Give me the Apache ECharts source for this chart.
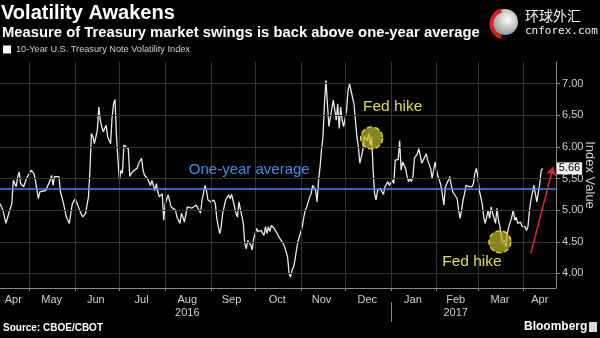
<!DOCTYPE html>
<html><head><meta charset="utf-8">
<script src="https://cdn.jsdelivr.net/npm/echarts@6/dist/echarts.min.js"></script>
<style>html,body{margin:0;padding:0;background:#000;}#c{width:600px;height:338px;}</style>
</head><body><div id="c"></div>
<script>
// ---------- DATA ----------
const seriesName = '10-Year U.S. Treasury Note Volatility Index';
const dates = [
'2016-04-11','2016-04-12','2016-04-13','2016-04-14','2016-04-15','2016-04-17','2016-04-19','2016-04-20','2016-04-22','2016-04-23',
'2016-04-24','2016-04-25','2016-04-27','2016-04-29','2016-04-30','2016-05-02','2016-05-04','2016-05-05','2016-05-07','2016-05-08',
'2016-05-09','2016-05-12','2016-05-13','2016-05-15','2016-05-16','2016-05-17','2016-05-18','2016-05-19','2016-05-21','2016-05-22',
'2016-05-23','2016-05-24','2016-05-26','2016-05-28','2016-05-29','2016-05-30','2016-06-01','2016-06-02','2016-06-04','2016-06-06',
'2016-06-08','2016-06-10','2016-06-11','2016-06-12','2016-06-13','2016-06-14','2016-06-16','2016-06-17','2016-06-18','2016-06-19',
'2016-06-20','2016-06-21','2016-06-22','2016-06-23','2016-06-25','2016-06-26','2016-06-27','2016-06-28','2016-06-29','2016-06-30',
'2016-07-01','2016-07-02','2016-07-03','2016-07-04','2016-07-05','2016-07-07','2016-07-08','2016-07-09','2016-07-11','2016-07-13',
'2016-07-14','2016-07-16','2016-07-17','2016-07-18','2016-07-20','2016-07-22','2016-07-23','2016-07-25','2016-07-26','2016-07-27',
'2016-07-28','2016-07-30','2016-07-31','2016-08-01','2016-08-03','2016-08-04','2016-08-05','2016-08-06','2016-08-08','2016-08-09',
'2016-08-11','2016-08-12','2016-08-13','2016-08-14','2016-08-16','2016-08-17','2016-08-19','2016-08-20','2016-08-22','2016-08-25',
'2016-08-26','2016-08-28','2016-08-29','2016-08-30','2016-09-01','2016-09-03','2016-09-04','2016-09-05','2016-09-06','2016-09-07',
'2016-09-08','2016-09-09','2016-09-11','2016-09-13','2016-09-14','2016-09-15','2016-09-16','2016-09-18','2016-09-19','2016-09-20',
'2016-09-21','2016-09-23','2016-09-24','2016-09-25','2016-09-26','2016-09-28','2016-09-29','2016-09-30','2016-10-01','2016-10-02',
'2016-10-03','2016-10-04','2016-10-05','2016-10-07','2016-10-08','2016-10-09','2016-10-10','2016-10-11','2016-10-12','2016-10-14',
'2016-10-15','2016-10-16','2016-10-17','2016-10-18','2016-10-20','2016-10-21','2016-10-22','2016-10-23','2016-10-24','2016-10-25',
'2016-10-26','2016-10-27','2016-10-28','2016-10-29','2016-10-30','2016-10-31','2016-11-02','2016-11-03','2016-11-04','2016-11-05',
'2016-11-06','2016-11-07','2016-11-08','2016-11-09','2016-11-11','2016-11-12','2016-11-13','2016-11-14','2016-11-15','2016-11-16',
'2016-11-17','2016-11-18','2016-11-19','2016-11-20','2016-11-21','2016-11-23','2016-11-24','2016-11-25','2016-11-26','2016-11-27',
'2016-11-28','2016-11-29','2016-11-30','2016-12-02','2016-12-03','2016-12-04','2016-12-05','2016-12-07','2016-12-08','2016-12-09',
'2016-12-10','2016-12-11','2016-12-12','2016-12-13','2016-12-14','2016-12-16','2016-12-17','2016-12-18','2016-12-19','2016-12-20',
'2016-12-21','2016-12-22','2016-12-23','2016-12-25','2016-12-26','2016-12-27','2016-12-28','2016-12-29','2016-12-30','2016-12-31',
'2017-01-02','2017-01-03','2017-01-04','2017-01-05','2017-01-06','2017-01-07','2017-01-08','2017-01-09','2017-01-11','2017-01-12',
'2017-01-13','2017-01-14','2017-01-15','2017-01-16','2017-01-17','2017-01-19','2017-01-20','2017-01-21','2017-01-22','2017-01-23',
'2017-01-24','2017-01-25','2017-01-26','2017-01-28','2017-01-29','2017-01-30','2017-01-31','2017-02-01','2017-02-02','2017-02-03',
'2017-02-04','2017-02-06','2017-02-07','2017-02-08','2017-02-09','2017-02-10','2017-02-11','2017-02-12','2017-02-13','2017-02-15',
'2017-02-16','2017-02-17','2017-02-18','2017-02-19','2017-02-20','2017-02-21','2017-02-23','2017-02-24','2017-02-25','2017-02-26',
'2017-02-27','2017-02-28','2017-03-01','2017-03-02','2017-03-04','2017-03-05','2017-03-06','2017-03-07','2017-03-08','2017-03-09',
'2017-03-10','2017-03-11','2017-03-13','2017-03-14','2017-03-15','2017-03-16','2017-03-17','2017-03-18','2017-03-19','2017-03-20',
'2017-03-21','2017-03-22','2017-03-24','2017-03-25','2017-03-26','2017-03-27','2017-03-28','2017-03-30','2017-03-31','2017-04-01',
'2017-04-02','2017-04-03','2017-04-04','2017-04-05','2017-04-06','2017-04-08','2017-04-09','2017-04-10','2017-04-11','2017-04-12',
'2017-04-13','2017-04-14'
];
const values = [
5.10,5.05,5.00,5.03,4.79,4.95,5.10,5.47,5.37,5.53,
5.60,5.42,5.37,5.50,5.47,5.63,5.58,5.47,5.18,5.29,
5.26,5.31,5.34,5.47,5.55,5.39,5.53,5.55,5.53,5.29,
5.26,5.11,4.89,4.79,4.81,5.10,5.18,5.16,5.00,4.89,
4.95,5.21,5.63,6.21,6.16,6.05,6.26,6.63,6.42,6.32,
6.24,6.21,6.34,6.16,6.05,6.47,6.68,6.75,6.16,5.79,
5.47,5.63,5.58,6.03,6.00,5.97,5.53,5.58,5.63,5.66,
5.74,5.82,5.63,5.55,5.50,5.39,5.47,5.31,5.42,5.29,
5.21,5.26,4.84,5.10,5.24,5.21,5.05,5.03,5.00,4.89,
4.79,4.95,4.89,4.81,5.05,5.08,5.03,5.00,5.08,4.95,
5.16,5.39,5.31,5.16,5.13,5.16,5.10,4.87,4.74,4.63,
4.74,4.95,5.16,5.24,5.18,5.25,5.16,4.95,4.89,5.13,
5.10,4.79,4.47,4.39,4.52,4.45,4.37,4.55,4.63,4.71,
4.66,4.63,4.68,4.60,4.74,4.63,4.74,4.66,4.76,4.71,
4.68,4.63,4.58,4.55,4.47,4.42,4.34,4.26,4.00,3.94,
4.05,4.10,4.21,4.37,4.50,4.58,4.74,4.89,5.00,5.05,
5.13,5.21,5.26,5.39,5.31,5.13,5.47,5.68,5.95,6.16,
6.68,7.05,6.68,6.32,6.34,6.74,6.58,6.42,6.68,6.29,
6.63,6.42,6.32,6.58,6.89,7.00,6.89,6.68,6.42,6.16,
6.00,5.74,5.84,5.95,6.16,6.10,6.21,6.03,6.16,5.63,
5.26,5.16,5.31,5.34,5.29,5.25,5.37,5.39,5.45,5.39,
5.47,5.42,5.79,5.82,5.80,6.10,5.63,5.76,5.66,5.53,
5.45,5.50,5.45,5.53,5.82,5.89,5.97,6.00,5.74,5.79,
5.84,5.89,5.79,5.66,5.50,5.63,5.76,5.63,5.53,5.47,
5.39,5.08,5.37,5.42,5.47,5.53,5.39,5.29,5.31,5.18,
5.00,4.87,5.00,5.16,5.26,5.39,5.37,5.35,5.37,5.42,
5.58,5.66,5.53,5.31,5.10,4.89,4.79,4.89,5.00,4.87,
5.05,4.95,4.79,5.03,4.84,4.74,4.58,4.47,4.52,4.42,
4.63,4.74,4.89,5.00,4.84,4.89,4.79,4.81,4.74,4.71,
4.74,4.68,4.74,5.00,5.16,5.39,5.26,5.13,5.10,5.42,
5.63,5.66
];
const xMin = '2016-04-11';
const xMax = '2017-04-23';
const yMin = 3.77;
const yMax = 7.34;
const yTicks = [4.0, 4.5, 5.0, 5.5, 6.0, 6.5, 7.0];
const monthStarts = ['2016-05-01','2016-06-01','2016-07-01','2016-08-01','2016-09-01','2016-10-01','2016-11-01','2016-12-01','2017-01-01','2017-02-01','2017-03-01','2017-04-01'];
const monthLabelDates = ['2016-04-20','2016-05-16','2016-06-15','2016-07-16','2016-08-16','2016-09-15','2016-10-16','2016-11-15','2016-12-16','2017-01-16','2017-02-14','2017-03-16','2017-04-12'];
const monthLabels = ['Apr','May','Jun','Jul','Aug','Sep','Oct','Nov','Dec','Jan','Feb','Mar','Apr'];
const yearLabels = ['','','','','2016','','','','','','2017','',''];
const yearBoundary = ['2017-01-01'];
const oneYearAverage = 5.33;
const averageLabel = 'One-year average';
const averageLabelAt = ['2016-09-27', 5.63];
const fedHikeDates = ['2016-12-19', '2017-03-16'];
const fedHikeValues = [6.14, 4.50];
const fedHikeLabel = 'Fed hike';
const arrowFrom = ['2017-04-06', 4.32];
const arrowTo = ['2017-04-21', 5.68];

// ---------- BUILD ----------
const P = s => { const [y, m, d] = s.split('-').map(Number); return Date.UTC(y, m - 1, d); };
const seriesData = dates.map((d, i) => [P(d), values[i]]);
const labelMap = {};
monthLabelDates.forEach((d, i) => {
  labelMap[P(d)] = monthLabels[i] + (yearLabels[i] ? '\n' + yearLabels[i] : '');
});
const FONT = 'Liberation Sans, Arial, sans-serif';
const grey = '#cfcfcf';
const gridColor = '#333333';
const yellow = '#e3df3c';

const chart = echarts.init(document.getElementById('c'), null, {renderer: 'canvas'});
chart.setOption({
  backgroundColor: '#000',
  animation: false,
  textStyle: {fontFamily: FONT},
  title: [
    {text: 'Volatility Awakens', left: 1, top: 3, padding: 0,
     textStyle: {color: '#fff', fontSize: 20, fontWeight: 'bold', fontFamily: FONT}},
    {text: 'Measure of Treasury market swings is back above one-year average', left: 2, top: 25, padding: 0,
     textStyle: {color: '#fff', fontSize: 14.8, fontWeight: 'bold', fontFamily: FONT}}
  ],
  legend: {
    data: [seriesName], left: 3, top: 45, padding: 0,
    icon: 'rect', itemWidth: 8, itemHeight: 8, itemGap: 4,
    textStyle: {color: grey, fontSize: 9.2, fontFamily: FONT},
    selectedMode: false
  },
  grid: {left: 0, right: 44, top: 62, bottom: 50, containLabel: false, outerBoundsMode: 'none'},
  xAxis: [
    {
      type: 'value', min: P(xMin), max: P(xMax),
      axisLine: {show: true, onZero: false, lineStyle: {color: '#8a8a8a', width: 1}},
      axisTick: {show: true, customValues: monthStarts.map(P), length: 3, lineStyle: {color: '#8a8a8a'}},
      axisLabel: {
        customValues: monthLabelDates.map(P),
        formatter: v => labelMap[v] || '',
        color: grey, fontSize: 11, margin: 5, lineHeight: 13, fontFamily: FONT,
        hideOverlap: false
      },
      splitLine: {show: false}
    },
    {
      type: 'value', min: P(xMin), max: P(xMax), position: 'bottom', offset: 14,
      axisLine: {show: false, onZero: false},
      axisTick: {show: true, customValues: yearBoundary.map(P), length: 20, lineStyle: {color: '#8a8a8a'}},
      axisLabel: {show: false},
      splitLine: {show: false}
    }
  ],
  yAxis: {
    type: 'value', position: 'right', min: yMin, max: yMax,
    axisLine: {show: true, onZero: false, lineStyle: {color: '#8a8a8a'}},
    axisTick: {show: true, customValues: yTicks, length: 4, lineStyle: {color: '#8a8a8a'}},
    axisLabel: {customValues: yTicks, formatter: v => v.toFixed(2), color: grey, fontSize: 11, margin: 6, fontFamily: FONT},
    splitLine: {show: false},
    name: 'Index Value', nameLocation: 'middle', nameRotate: -90, nameGap: 34, nameMoveOverlap: false,
    nameTextStyle: {color: grey, fontSize: 13, fontFamily: FONT, align: 'center', verticalAlign: 'middle'}
  },
  series: [
    {
      name: 'grid', type: 'line', data: [], silent: true, z: 1,
      markLine: {
        silent: true, symbol: 'none', animation: false,
        label: {show: false},
        lineStyle: {color: gridColor, width: 1, type: 'solid'},
        emphasis: {disabled: true},
        data: yTicks.map(v => ({yAxis: v})).concat(monthStarts.map(d => ({xAxis: P(d)})))
      }
    },
    {
      name: seriesName, type: 'line', data: seriesData, z: 3,
      showSymbol: false, symbol: 'none',
      lineStyle: {color: '#e9e9e9', width: 1.3},
      itemStyle: {color: '#ffffff'},
      endLabel: {
        show: true, formatter: p => p.value[1].toFixed(2),
        color: '#000', backgroundColor: '#f2f2f2', fontSize: 11, padding: [1, 2, 0, 2],
        distance: 14, fontFamily: FONT
      },
      markLine: {
        silent: true, animation: false, symbol: 'none',
        label: {show: false},
        emphasis: {disabled: true},
        data: [
          {yAxis: oneYearAverage, lineStyle: {color: '#3a8fe4', width: 1.5, type: 'solid'}},
          [
            {coord: [P(arrowFrom[0]), arrowFrom[1]], symbol: 'none', lineStyle: {color: '#e3262b', width: 1.5, type: 'solid'}},
            {coord: [P(arrowTo[0]), arrowTo[1]], symbol: 'arrow', symbolSize: 8}
          ]
        ]
      },
      markPoint: {
        silent: true, animation: false,
        data: [
          {coord: [P(fedHikeDates[0]), fedHikeValues[0]], symbol: 'circle', symbolSize: 22,
           itemStyle: {color: 'rgba(190,185,40,0.72)', borderColor: yellow, borderWidth: 1.3, borderType: 'dashed'},
           label: {show: true, formatter: fedHikeLabel, position: 'inside', offset: [21, -31], color: yellow, fontSize: 15.5, fontFamily: FONT}},
          {coord: [P(fedHikeDates[1]), fedHikeValues[1]], symbol: 'circle', symbolSize: 22,
           itemStyle: {color: 'rgba(190,185,40,0.72)', borderColor: yellow, borderWidth: 1.3, borderType: 'dashed'},
           label: {show: true, formatter: fedHikeLabel, position: 'inside', offset: [-28, 20], color: yellow, fontSize: 15.5, fontFamily: FONT}},
          {coord: [P(averageLabelAt[0]), averageLabelAt[1]], symbol: 'circle', symbolSize: 0,
           itemStyle: {color: 'rgba(0,0,0,0)'},
           label: {show: true, formatter: averageLabel, position: 'inside', color: '#3a8fe4', fontSize: 15, fontFamily: FONT}}
        ]
      }
    }
  ],
  graphic: [
    {type: 'text', left: 3, top: 323, style: {text: 'Source: CBOE/CBOT', fill: '#fff', font: 'bold 10px ' + FONT}},
    {type: 'text', left: 524, top: 321, style: {text: 'Bloomberg', fill: '#fff', font: 'bold 12px ' + FONT}},
    {type: 'rect', left: 589, top: 322, shape: {width: 8, height: 10}, style: {fill: '#d8d8d8'}},
    {type: 'circle', left: 492, top: 9, shape: {r: 13}, style: {
      fill: {type: 'radial', x: 0.6, y: 0.4, r: 0.7, colorStops: [{offset: 0, color: '#ffffff'}, {offset: 1, color: '#8a8a8a'}]}}},
    {type: 'arc', left: 489, top: 8, shape: {cx: 15, cy: 15, r: 14, startAngle: Math.PI * 0.6, endAngle: Math.PI * 1.4}, style: {stroke: '#d81e22', lineWidth: 4, fill: null}},
    {type: 'text', left: 525, top: 9, style: {text: '环球外汇', fill: '#f0f0f0', font: '14px "Noto Sans CJK SC"'}},
    {type: 'text', left: 525, top: 26, style: {text: 'cnforex.com', fill: '#f0f0f0', font: '11px "DejaVu Sans Mono"'}}
  ]
});
</script>
</body></html>
